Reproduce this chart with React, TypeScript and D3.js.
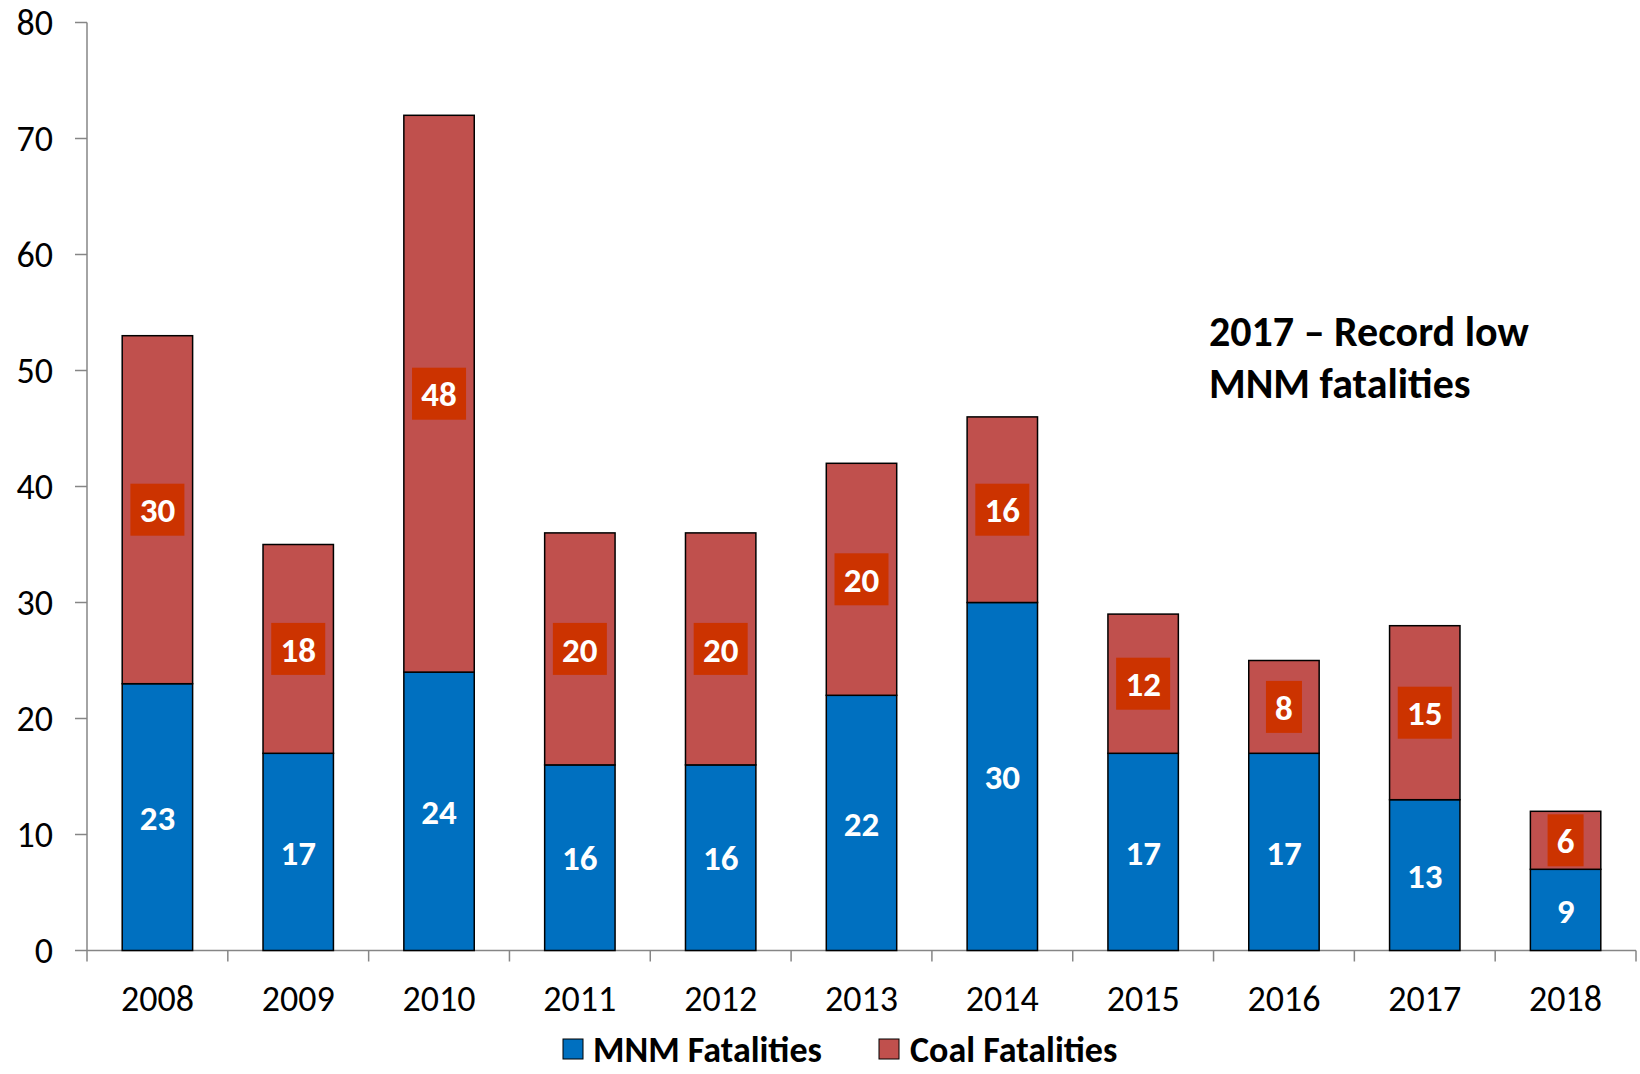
import React from 'react';
import * as d3 from 'd3';

const years = ['2008', '2009', '2010', '2011', '2012', '2013', '2014', '2015', '2016', '2017', '2018'];
// segment heights as drawn
const mnmValues = [23, 17, 24, 16, 16, 22, 30, 17, 17, 13, 7];
const coalValues = [30, 18, 48, 20, 20, 20, 16, 12, 8, 15, 5];
// data labels as printed on the bars
const mnmLabels = ['23', '17', '24', '16', '16', '22', '30', '17', '17', '13', '9'];
const coalLabels = ['30', '18', '48', '20', '20', '20', '16', '12', '8', '15', '6'];
const yTicks = [0, 10, 20, 30, 40, 50, 60, 70, 80];
const noteLines = ['2017 – Record low', 'MNM fatalities'];

const FONT = 'Calibri, Carlito, Lato, sans-serif';
const MNM = '#0070C0';
const COAL = '#C0504D';
const BOX = '#CC3300';
const AXIS = '#868686';

const App = () => {
  const width = 1640;
  const height = 1074;
  const left = 87;
  const right = 1636;
  const top = 22.5;
  const bottom = 950.5;

  const x = d3.scaleBand<string>().domain(years).range([left, right]).paddingInner(0.5).paddingOuter(0.25);
  const y = d3.scaleLinear().domain([0, 80]).range([bottom, top]);
  const step = x.step();

  return (
    <svg width={width} height={height} style={{ position: 'absolute', left: 0, top: 0, background: '#fff' }}>
      {/* y axis */}
      <line x1={left} x2={left} y1={top} y2={bottom} stroke={AXIS} strokeWidth={1.5} />
      {yTicks.map(t => (
        <g key={t}>
          <line x1={left - 12} x2={left} y1={y(t)} y2={y(t)} stroke={AXIS} strokeWidth={1.5} />
          <text x={53} y={y(t)} dy="0.35em" textAnchor="end" fontFamily={FONT} fontSize={36} fill="#000">{t}</text>
        </g>
      ))}
      {/* x axis */}
      <line x1={left} x2={right} y1={bottom} y2={bottom} stroke={AXIS} strokeWidth={1.5} />
      {d3.range(years.length + 1).map(i => (
        <line key={i} x1={left + i * step} x2={left + i * step} y1={bottom} y2={bottom + 11} stroke={AXIS} strokeWidth={1.5} />
      ))}
      {years.map(yr => (
        <text key={yr} x={(x(yr) as number) + x.bandwidth() / 2} y={1011} textAnchor="middle" fontFamily={FONT} fontSize={36} fill="#000">{yr}</text>
      ))}

      {/* bars */}
      {years.map((yr, i) => {
        const bx = x(yr) as number;
        const bw = x.bandwidth();
        const m = mnmValues[i];
        const c = coalValues[i];
        const cx = bx + bw / 2;
        const mMid = y(m / 2);
        const cMid = y(m + c / 2);
        const boxW = coalLabels[i].length * 18 + 18;
        return (
          <g key={yr}>
            <rect x={bx} y={y(m)} width={bw} height={y(0) - y(m)} fill={MNM} stroke="#000" strokeWidth={1.5} />
            <rect x={bx} y={y(m + c)} width={bw} height={y(m) - y(m + c)} fill={COAL} stroke="#000" strokeWidth={1.5} />
            <text x={cx} y={mMid} dy="0.36em" textAnchor="middle" fontFamily={FONT} fontWeight="bold" fontSize={35} fill="#fff">{mnmLabels[i]}</text>
            <rect x={cx - boxW / 2} y={cMid - 26} width={boxW} height={52} fill={BOX} />
            <text x={cx} y={cMid} dy="0.36em" textAnchor="middle" fontFamily={FONT} fontWeight="bold" fontSize={35} fill="#fff">{coalLabels[i]}</text>
          </g>
        );
      })}

      {/* annotation */}
      {noteLines.map((s, i) => (
        <text key={s} x={1209} y={346 + i * 52} fontFamily={FONT} fontWeight="bold" fontSize={42} fill="#000">{s}</text>
      ))}

      {/* legend */}
      <rect x={563} y={1039} width={20} height={20} fill={MNM} stroke="#000" strokeWidth={1} />
      <text x={593} y={1049} dy="0.36em" fontFamily={FONT} fontWeight="bold" fontSize={36} fill="#000">MNM Fatalities</text>
      <rect x={879} y={1039} width={20} height={20} fill={COAL} stroke="#000" strokeWidth={1} />
      <text x={910} y={1049} dy="0.36em" fontFamily={FONT} fontWeight="bold" fontSize={36} fill="#000">Coal Fatalities</text>
    </svg>
  );
};

export default App;
